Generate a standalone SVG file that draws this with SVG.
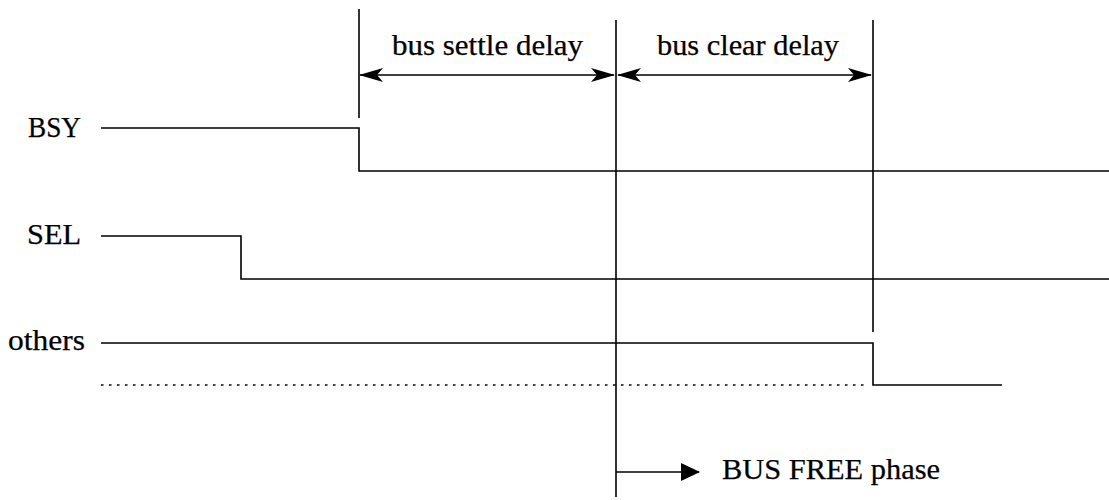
<svg xmlns="http://www.w3.org/2000/svg" width="1109" height="500" viewBox="0 0 1109 500">
<style>
.ln{stroke:#000;stroke-width:1.6;fill:none}
.dot{stroke:#000;stroke-width:1.6;fill:none;stroke-dasharray:2.5 5.5}
.t{font-family:"Liberation Serif","Times New Roman",serif;font-size:29px;fill:#000;stroke:#000;stroke-width:0.25}
</style>
<defs>
<marker id="barb" viewBox="0 0 24 16" refX="23" refY="8" markerWidth="24" markerHeight="16" markerUnits="userSpaceOnUse" orient="auto-start-reverse">
<path d="M0,1 L24,8 L0,15 L6,8 Z" fill="#000"/>
</marker>
<marker id="tri" viewBox="0 0 19 18" refX="18" refY="9" markerWidth="19" markerHeight="18" markerUnits="userSpaceOnUse" orient="auto">
<path d="M0,0 L19,9 L0,18 Z" fill="#000"/>
</marker>
</defs>
<g id="label-BSY"><text class="t" x="28" y="137" textLength="53" lengthAdjust="spacingAndGlyphs">BSY</text></g>
<g id="label-SEL"><text class="t" x="27" y="244" textLength="54" lengthAdjust="spacingAndGlyphs">SEL</text></g>
<g id="label-others"><text class="t" x="8" y="350" textLength="77" lengthAdjust="spacingAndGlyphs">others</text></g>
<g id="label-settle"><text class="t" x="392" y="55" textLength="191" lengthAdjust="spacingAndGlyphs">bus settle delay</text></g>
<g id="label-clear"><text class="t" x="657" y="55" textLength="182" lengthAdjust="spacingAndGlyphs">bus clear delay</text></g>
<g id="label-busfree"><text class="t" x="722" y="479" textLength="218" lengthAdjust="spacingAndGlyphs">BUS FREE phase</text></g>
<g id="connectors">
<line class="ln" x1="359" y1="9" x2="359" y2="118"/>
<line class="ln" x1="616" y1="20" x2="616" y2="497"/>
<line class="ln" x1="873" y1="20" x2="873" y2="332"/>
<polyline class="ln" points="101,128 359,128 359,171 1109,171"/>
<polyline class="ln" points="101,236 241,236 241,279 1109,279"/>
<polyline class="ln" points="101,343 873,343 873,385 1002,385"/>
<line class="dot" x1="101" y1="385" x2="866" y2="385"/>
<line class="ln" x1="360" y1="75" x2="614" y2="75" marker-start="url(#barb)" marker-end="url(#barb)"/>
<line class="ln" x1="618" y1="75" x2="871" y2="75" marker-start="url(#barb)" marker-end="url(#barb)"/>
<line class="ln" x1="616" y1="472" x2="699" y2="472" marker-end="url(#tri)"/>
</g>
</svg>
